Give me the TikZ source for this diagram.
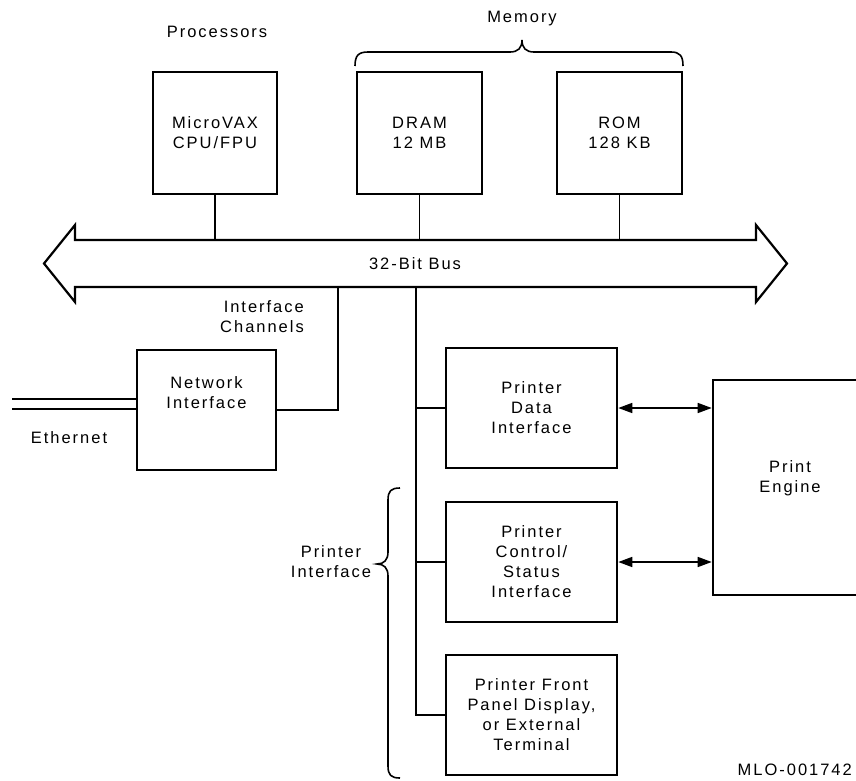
\documentclass[tikz,border=0pt]{standalone}
\usepackage{fontspec}
\setmainfont[LetterSpace=12]{Liberation Sans}
\usetikzlibrary{arrows.meta}
\tikzset{
  box/.style={draw, line width=2.6pt, inner sep=0pt, align=center},
  conn/.style={line width=1.6pt},
  lbl/.style={inner sep=0pt, align=center},
  dbl/.style={line width=1.6pt, {Triangle[length=14pt,width=10pt]}-{Triangle[length=14pt,width=10pt]}},
  every node/.style={font=\fontsize{16.5}{20}\selectfont}
}
\begin{document}
\begin{tikzpicture}[x=1pt,y=-1pt]
\clip (0,0) rectangle (856,781);
\useasboundingbox (0,0) rectangle (856,781);
% boxes
\node[box, minimum width=124pt, minimum height=122pt] (cpu) at (215,133) {MicroVAX\\CPU/FPU};
\node[box, minimum width=125pt, minimum height=122pt] (dram) at (419.5,133) {DRAM\\12 MB};
\node[box, minimum width=125pt, minimum height=122pt] (rom) at (619.5,133) {ROM\\128 KB};
\node[box, minimum width=139pt, minimum height=120pt] (net) at (206.5,410) {Network\\Interface\\[14pt]};
\node[box, minimum width=171pt, minimum height=120pt] (pdata) at (531.5,408) {Printer\\Data\\Interface};
\node[box, minimum width=171pt, minimum height=120pt] (pctrl) at (531.5,562) {Printer\\Control/\\Status\\Interface};
\node[box, minimum width=171pt, minimum height=120pt] (pfront) at (531.5,715) {Printer Front\\Panel Display,\\or External\\Terminal};
\node[box, minimum width=154pt, minimum height=215pt] (engine) at (790,487.5) {};
\node[lbl] (englbl) at (790,478) {Print\\Engine};
% bus
\draw[line width=2.2pt, line join=miter] (75,240) -- (756,240) -- (756,225) -- (787,263.5) -- (756,302) -- (756,287) -- (75,287) -- (75,302) -- (44,263.5) -- (75,225) -- cycle;
\node[lbl] (buslbl) at (415,263.5) {32-Bit Bus};
\coordinate (bustop) at (0,240);
\coordinate (busbot) at (0,287);
% labels
\node[lbl] (proc) at (217,32) {Processors};
\node[lbl] (mem) at (522,19) {Memory};
\node[lbl, anchor=east, align=right] (chan) at (304,317) {Interface\\Channels};
\node[lbl] (eth) at (69,438) {Ethernet};
\node[lbl] (pint) at (331,562) {Printer\\Interface};
\node[lbl, anchor=east] (mlo) at (852,770) {MLO-001742};
% memory brace
\draw[line width=1.6pt] (355,66) .. controls (355,56) and (358,52) .. (368,52) -- (510,52) .. controls (518,52) and (522,48) .. (522,40) .. controls (522,48) and (526,52) .. (534,52) -- (671,52) .. controls (680,52) and (683,56) .. (683,66);
% printer brace
\draw[line width=1.6pt] (400,488) .. controls (391,488) and (388,491) .. (388,500) -- (388,552) .. controls (388,560) and (384,564) .. (377,564) .. controls (384,564) and (388,568) .. (388,576) -- (388,766) .. controls (388,775) and (391,778) .. (400,778);
% connectors to bus
\draw[conn] (cpu.south) -- (cpu.south |- bustop);
\draw[conn] (dram.south) -- (dram.south |- bustop);
\draw[conn] (rom.south) -- (rom.south |- bustop);
\coordinate (netcorner) at (338,410);
\draw[conn] (net.east) -- (netcorner) -- (netcorner |- busbot);
\coordinate (ptop) at (416,287);
\coordinate (pbot) at (416,715);
\draw[conn] (ptop) -- (pbot) -- (pfront.west);
\draw[conn] (pdata.west -| ptop) -- (pdata.west);
\draw[conn] (pctrl.west -| ptop) -- (pctrl.west);
% ethernet
\coordinate (eth1) at (12,399);
\coordinate (eth2) at (12,409);
\draw[line width=1.4pt] (eth1) -- (eth1 -| net.west);
\draw[line width=1.4pt] (eth2) -- (eth2 -| net.west);
% double arrows
\draw[dbl] (pdata.east) -- (pdata.east -| engine.west);
\draw[dbl] (pctrl.east) -- (pctrl.east -| engine.west);
\end{tikzpicture}
\end{document}
